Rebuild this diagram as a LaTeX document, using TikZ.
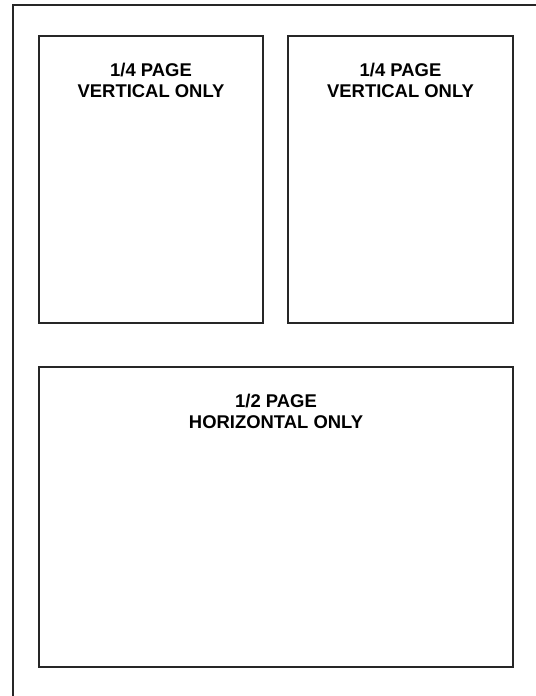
\documentclass[tikz,border=0pt]{standalone}
\usepackage{fontspec}
\setsansfont{Liberation Sans}
\usetikzlibrary{positioning}

\begin{document}
\begin{tikzpicture}[
	x=1bp, y=1bp,
	line width=2bp,
	panel/.style={rectangle, draw=black!85, outer sep=0pt, inner sep=0pt},
	caption/.style={anchor=north, inner sep=0pt, align=center, font=\sffamily\bfseries\fontsize{18.5}{21.5}\selectfont}
]
\useasboundingbox (0,0) rectangle (536,-696);

% --- Page frame ---
\coordinate (frameTL) at (13,-5.5);
\draw[black!85] (frameTL |- 0,-696) -- (frameTL) -- (frameTL -| 536,0);

% --- Quarter pages ---
\node[panel, minimum width=224bp, minimum height=287bp, anchor=north west] (qleft) at (39,-36) {};
\node[panel, minimum width=225bp, minimum height=287bp, right=25bp of qleft] (qright) {};

% --- Half page ---
\node[panel, minimum width=474bp, minimum height=300bp, anchor=north west] (half) at (39,-367) {};

\node[caption, below=26bp of qleft.north] (qleftText) {1/4 PAGE\\VERTICAL ONLY};
\node[caption, below=26bp of qright.north] (qrightText) {1/4 PAGE\\VERTICAL ONLY};
\node[caption, below=26bp of half.north] (halfText) {1/2 PAGE\\HORIZONTAL ONLY};

\end{tikzpicture}
\end{document}
